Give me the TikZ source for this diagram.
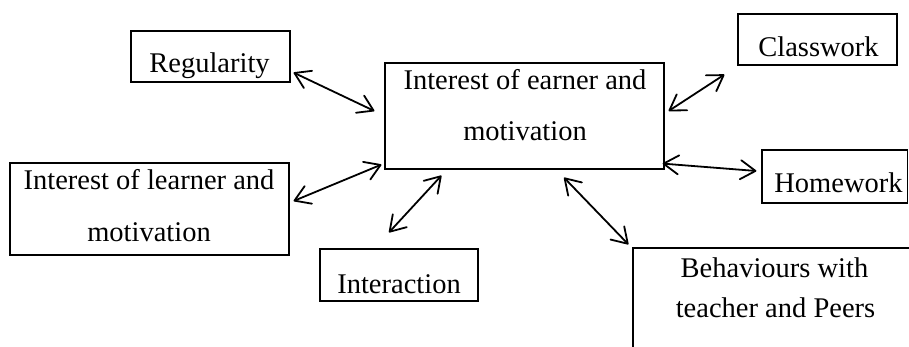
\documentclass[tikz,border=0pt]{standalone}
\usepackage{fontspec}
\setmainfont{Liberation Serif}
\usetikzlibrary{arrows.meta}
\tikzset{
  box/.style={draw=black, line width=1.2pt, rectangle, inner sep=0pt},
  txt/.style={anchor=base, inner sep=0pt, font=\fontsize{28.5}{34}\selectfont},
  tip/.tip={Straight Barb[length=15pt,width=19pt,line cap=round,line join=round]},
  arr/.style={line width=1.8pt, {tip}-{tip}},
}
\begin{document}
\begin{tikzpicture}[x=1pt,y=-1pt]
\useasboundingbox (0,0) rectangle (909,347);
\clip (0,0) rectangle (909,347);
% boxes
\node[box, minimum width=159pt, minimum height=51pt] (reg) at (210.5,56.5) {};
\node[box, minimum width=279pt, minimum height=106pt] (cen) at (524.5,116) {};
\node[box, minimum width=159pt, minimum height=51pt] (cls) at (817.5,39.5) {};
\node[box, minimum width=145.5pt, minimum height=53pt] (hom) at (834.75,176.5) {};
\node[box, minimum width=279pt, minimum height=92pt] (lrn) at (149.5,209) {};
\node[box, minimum width=158pt, minimum height=52pt] (int) at (399,275) {};
\node[box, minimum width=282pt, minimum height=107pt] (beh) at (774,301.5) {};
% texts
\node[txt] (regt) at (209.5,73) {Regularity};
\node[txt] (cent1) at (525,90) {Interest of earner and};
\node[txt] (cent2) at (525,141) {motivation};
\node[txt] (clst) at (818.5,57) {Classwork};
\node[txt] (homt) at (838.5,193) {Homework};
\node[txt] (lrnt1) at (149,190) {Interest of learner and};
\node[txt] (lrnt2) at (149,241) {motivation};
\node[txt] (intt) at (399,293) {Interaction};
\node[txt] (beht1) at (774.5,277) {Behaviours with};
\node[txt] (beht2) at (775.5,317) {teacher and Peers};
% connectors
\draw[arr] ([shift={(3,-10)}]reg.south east) -- ([shift={(-10,-5)}]cen.west);
\draw[arr] ([shift={(4,-8)}]lrn.east) -- ([shift={(-3,-5)}]cen.south west);
\draw[arr] ([shift={(-10,-16)}]int.north) -- ([shift={(57,6)}]cen.south west);
\draw[arr] ([shift={(39.5,8)}]cen.south) -- ([shift={(-4,-3)}]beh.north west);
\draw[arr] ([shift={(4,-5)}]cen.east) -- ([shift={(-13,9)}]cls.south west);
\draw[arr] ([shift={(-2,-6)}]cen.south east) -- ([shift={(-5,-5.5)}]hom.west);
\end{tikzpicture}
\end{document}
